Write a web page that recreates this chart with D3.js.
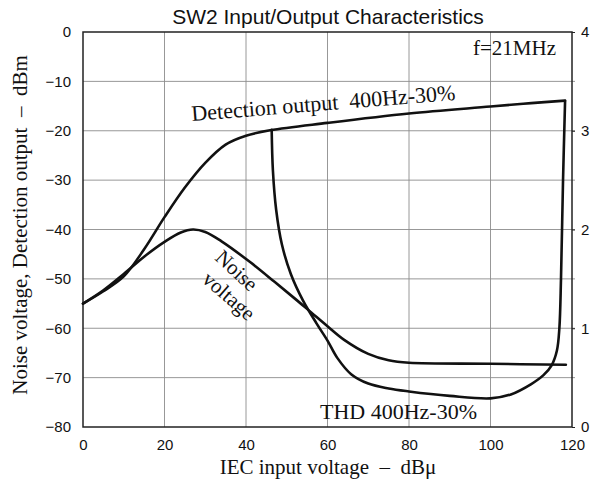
<!DOCTYPE html>
<html>
<head>
<meta charset="utf-8">
<script src="https://cdn.jsdelivr.net/npm/d3@7"></script>
<style>
  body { margin: 0; background: #fff; }
  svg { display: block; }
  .serif { font-family: "Liberation Serif", "Times New Roman", serif; fill: #111; }
  .sans { font-family: "Liberation Sans", Arial, sans-serif; fill: #111; }
</style>
</head>
<body>
<div class="chart"></div>
<script>
// x ticks (dBu) and left ticks (dBm), right ticks (THD %)
var xTicks = [0, 20, 40, 60, 80, 100, 120];
var yTicks = [0, -10, -20, -30, -40, -50, -60, -70, -80];
var y2Ticks = [0, 1, 2, 3, 4];

// Detection output 400Hz-30%  (dBu -> dBm)
var detX = [0, 5, 10, 15, 20, 25, 30, 35, 40, 46, 60, 80, 100, 110, 118.3];
var detY = [-55, -52.5, -49.5, -44, -37.5, -31.5, -26.5, -22.8, -21, -19.9, -18.4, -16.5, -15.1, -14.4, -13.9];

// Noise voltage (dBu -> dBm)
var noiseX = [0, 5, 10, 15, 20, 24, 27, 30, 34, 41, 47, 52, 56, 60, 64, 70, 75, 80, 100, 118.5];
var noiseY = [-55, -52.3, -49, -45.5, -42.5, -40.6, -40, -40.5, -42.4, -46.6, -50.6, -54, -56.8, -59.6, -62.3, -65.2, -66.5, -67, -67.2, -67.4];

// THD 400Hz-30% (dBu -> %)
var thdX = [46.3, 46.6, 47.4, 48.8, 51, 54, 57.3, 60, 62.4, 65.8, 70, 75, 80, 90, 100, 105, 110, 113, 115, 116.3, 116.9, 117.3, 117.8, 118.3];
var thdPct = [3.01, 2.6, 2.2, 1.85, 1.55, 1.28, 1.05, 0.875, 0.7, 0.535, 0.44, 0.39, 0.36, 0.315, 0.29, 0.33, 0.435, 0.525, 0.625, 0.775, 1.0, 1.5, 2.5, 3.3];

var W = 592, H = 483;
var svg = d3.select(".chart").append("svg")
  .attr("width", W)
  .attr("height", H);

var x = d3.scaleLinear().domain([0, 120]).range([83, 572]);
var y = d3.scaleLinear().domain([-80, 0]).range([427, 32]);
var y2 = d3.scaleLinear().domain([0, 4]).range([427, 32]);

// grid
var grid = svg.append("g").attr("stroke", "#8c8c8c").attr("stroke-width", 0.9);
grid.selectAll(".vg").data(xTicks.slice(1, -1)).enter().append("line")
  .attr("x1", function(d){ return x(d); }).attr("x2", function(d){ return x(d); })
  .attr("y1", y(0)).attr("y2", y(-80));
grid.selectAll(".hg").data(yTicks.slice(1, -1)).enter().append("line")
  .attr("x1", x(0)).attr("x2", x(120) + 3)
  .attr("y1", function(d){ return y(d); }).attr("y2", function(d){ return y(d); });

// frame
svg.append("rect")
  .attr("x", x(0)).attr("y", y(0))
  .attr("width", x(120) - x(0)).attr("height", y(-80) - y(0))
  .attr("fill", "none").attr("stroke", "#222").attr("stroke-width", 1.5);

// axes (labels only, frame drawn above)
var left = svg.append("g").attr("transform", "translate(" + x(0) + ",0)")
  .call(d3.axisLeft(y).tickValues(yTicks).tickSize(0).tickPadding(12)
    .tickFormat(function(d){ return d === 0 ? "0" : "\u2212" + Math.abs(d); }));
var right = svg.append("g").attr("transform", "translate(" + x(120) + ",0)")
  .call(d3.axisRight(y2).tickValues(y2Ticks).tickSize(3).tickPadding(6)
    .tickFormat(d3.format("d")));
var bottom = svg.append("g").attr("transform", "translate(0," + y(-80) + ")")
  .call(d3.axisBottom(x).tickValues(xTicks).tickSize(0).tickPadding(12));

[left, right, bottom].forEach(function(g) {
  g.select(".domain").remove();
  g.selectAll("text").attr("class", "sans").style("font-size", "15px");
  g.selectAll("line").attr("stroke", "#222");
});

// curves
var line = d3.line().curve(d3.curveCatmullRom.alpha(0.5));
function pts(xs, ys, sy) {
  return xs.map(function(v, i){ return [x(v), sy(ys[i])]; });
}
var curves = svg.append("g").attr("fill", "none").attr("stroke", "#111")
  .attr("stroke-width", 2.6).attr("stroke-linejoin", "round").attr("stroke-linecap", "round");
curves.append("path").attr("d", line(pts(detX, detY, y)));
curves.append("path").attr("d", line(pts(noiseX, noiseY, y)));
curves.append("path").attr("d", line(pts(thdX, thdPct, y2)));

// texts
svg.append("text").attr("class", "sans")
  .attr("x", 328).attr("y", 24).attr("text-anchor", "middle")
  .style("font-size", "21px")
  .text("SW2 Input/Output Characteristics");

svg.append("text").attr("class", "serif")
  .attr("x", 556).attr("y", 55).attr("text-anchor", "end")
  .style("font-size", "21px")
  .text("f=21MHz");

svg.append("text").attr("class", "serif")
  .attr("transform", "translate(192,121) rotate(-4.6)")
  .style("font-size", "22px").style("white-space", "pre")
  .text("Detection output  400Hz-30%");

svg.append("text").attr("class", "serif")
  .attr("transform", "translate(214,259) rotate(43)")
  .style("font-size", "21px")
  .text("Noise");
svg.append("text").attr("class", "serif")
  .attr("transform", "translate(201,281) rotate(41)")
  .style("font-size", "21px")
  .text("voltage");

svg.append("text").attr("class", "serif")
  .attr("x", 320).attr("y", 419)
  .style("font-size", "22px")
  .text("THD 400Hz-30%");

svg.append("text").attr("class", "serif")
  .attr("transform", "translate(27,225) rotate(-90)")
  .attr("text-anchor", "middle")
  .style("font-size", "21px").style("white-space", "pre")
  .text("Noise voltage, Detection output  \u2013  dBm");

svg.append("text").attr("class", "serif")
  .attr("x", 328).attr("y", 474).attr("text-anchor", "middle")
  .style("font-size", "21px").style("white-space", "pre")
  .text("IEC input voltage  \u2013  dB\u03bc");
</script>
</body>
</html>
